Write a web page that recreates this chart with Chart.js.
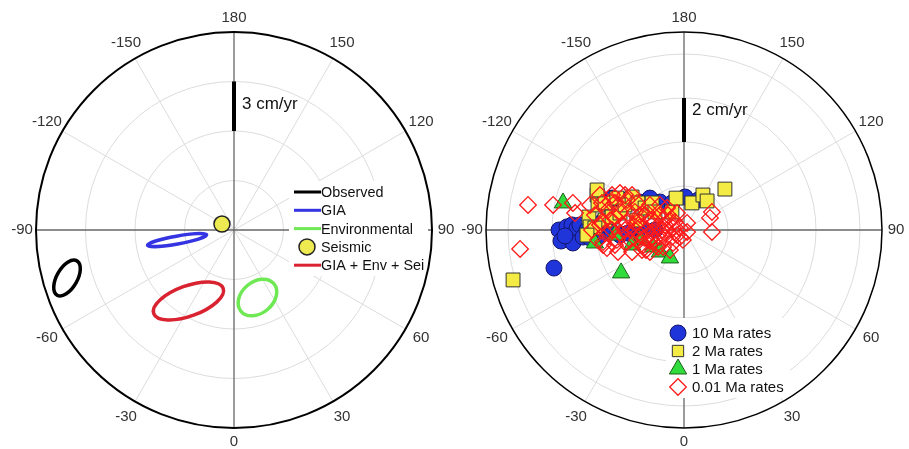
<!DOCTYPE html>
<html>
<head>
<meta charset="utf-8">
<script src="https://cdn.jsdelivr.net/npm/chart.js@4.4.0/dist/chart.umd.min.js"></script>
<style>
  html, body { margin: 0; padding: 0; background: #fff; }
  canvas { position: absolute; top: 0; }
</style>
</head>
<body>
<canvas id="leftChart" width="455" height="449" style="left:0"></canvas>
<canvas id="rightChart" width="454" height="449" style="left:455px"></canvas>
<script>
// Polar rate plots: azimuth labels round the rim, rates in cm/yr

const angleLabels = [180, 150, 120, 90, 60, 30, 0, -30, -60, -90, -120, -150];
const leftRings = [3, 6, 9];
const rightRings = [2, 4, 6, 8];

// left panel: error ellipses (east / north components, cm/yr)
const ellipseLabels = ['Observed', 'GIA', 'Environmental', 'GIA + Env + Sei'];
const ellipseColors = ['#000000', '#3434e2', '#6ee853', '#d92330'];
const ellipseEast = [-10.12, -3.45, 1.42, -2.76];
const ellipseNorth = [-2.91, -0.61, -4.09, -4.30];
const ellipseMajor = [1.20, 1.82, 1.30, 2.24];
const ellipseMinor = [0.62, 0.24, 0.95, 0.92];
const ellipseTilt = [60, 10, 40, 20];
const seismic = [[-0.73, 0.36]];

// right panel: rate estimates (east, north) cm/yr
const tenMa = [[-5.91, -1.73], [-5.68, 0], [-5.59, -0.5], [-5.32, 0.14], [-5.09, 0.23], [-5.05, -0.59],
  [-4.86, 0.09], [-4.73, 0.23], [-4.59, -0.32], [-4.41, 0], [-4.27, -0.36], [-4.05, -0.14], [-3.82, -0.27],
  [-3.55, 0], [-3.27, -0.09], [-2.91, -0.23], [-2.55, -0.14], [-2.0, 0.09], [-1.32, 0], [-3.27, 1.45],
  [-2.0, 1.27], [-1.09, 1.27], [-0.55, 1.23], [0.05, 1.5], [0.64, 1.36], [-3.73, 0.36], [-5.41, -0.27],
  [-2.82, 1.36], [-1.55, 1.45]];
const twoMa = [[-7.77, -2.27], [-4.32, 0.59], [-4.27, 0.14], [-3.95, 1.59], [-3.91, 1.14], [-3.59, 0.45],
  [-3.59, 1.23], [-3.27, 0.59], [-3.05, 1.45], [-2.91, 0.77], [-2.68, 1.14], [-2.36, 1.5], [-2.09, 1.23],
  [-2.14, 0.45], [-1.77, 1.0], [-1.45, 1.23], [-1.32, 0.82], [-0.55, 0.82], [-0.36, 1.45], [0.36, 1.23],
  [0.86, 1.59], [1.05, 1.32], [1.86, 1.86], [-4.05, 0.09], [-4.41, -0.23], [-3.95, 1.82]];
const oneMa = [[-5.5, 1.23], [-4.05, -0.59], [-2.86, -1.95], [-1.41, -0.77], [-1.09, -1.0], [-0.64, -1.27],
  [-2.0, -0.45], [-2.36, -0.68], [-3.14, -0.23]];
const hundredthMa = [[-7.09, 1.14], [-5.95, 1.14], [-5.05, 1.23], [-4.95, 0.77], [-7.45, -0.86], [-4.27, 1.14],
  [-3.73, 1.23], [-3.45, 0.91], [-3.73, 0.36], [-3.68, -0.55], [-2.59, 1.36], [-2.91, 0.82], [-2.55, 0.77],
  [-1.68, 0.77], [-2.0, 0.14], [-1.41, -0.32], [-0.95, 0.45], [-0.5, 0.09], [-0.18, -0.32], [-0.32, 0.77],
  [0.14, 0.32], [1.27, 0.82], [1.18, 0.55], [1.27, -0.09], [-1.18, -0.77], [-1.55, -1.0], [-2.14, -0.45],
  [-2.91, -0.14], [-3.27, 0], [-2.45, 0], [-0.95, -0.77], [-0.5, -0.59], [-0.77, 0], [-1.68, 0], [-2.14, 0.32],
  [-1.23, 0.14], [-0.77, 1.0], [-2.59, 0.32], [-3.14, 0.59], [-3.59, -0.14], [-3.05, -0.45], [-2.59, -0.55],
  [-1.86, -0.68], [-1.45, 0.45], [-1.09, -0.32], [-0.55, -0.32], [-0.32, -0.23], [0.14, -0.09], [-2.14, 1.23],
  [-2.91, 1.68], [-2.36, 1.59], [-3.82, 1.59], [-3.36, 1.27], [-1.77, 0.68], [-1.32, 0.36], [-0.86, 0.23],
  [-2.0, -0.23], [-1.55, -0.45], [-1.09, 0.68], [-0.64, 0.45], [-2.68, 0], [-2.23, 0.82], [-3.14, 1.23],
  [-1.73, -0.91], [-3.68, -0.68], [-4.05, 0.68], [-3.82, 0.23], [-3.36, 0.45], [-3.14, -0.68], [-2.82, 0.23],
  [-2.45, -0.45], [-2.23, 0], [-2.0, 0.68], [-1.91, -0.91], [-1.64, 0.36], [-1.45, -0.09], [-1.27, -0.68],
  [-1.0, 0], [-0.86, -0.36], [-0.73, 0.68], [-0.41, 0.36], [-0.18, 0.09], [-0.05, -0.45], [-1.09, 1.14],
  [-1.55, 1.14], [-2.68, 1.59], [-3.27, 1.59], [-4.18, 0], [-3.91, -0.45], [-3.5, -0.82], [-3.0, -1.0],
  [-2.36, -1.0], [-1.77, -0.36], [-1.32, -0.45], [-0.64, -0.91]];

const FONT = '"Liberation Sans", Arial, Helvetica, sans-serif';
const toXY = arr => arr.map(p => ({x: p[0], y: p[1]}));

function drawMarker(ctx, style, x, y, r) {
  ctx.beginPath();
  if (style === 'circle') {
    ctx.arc(x, y, r, 0, Math.PI * 2);
  } else if (style === 'rect') {
    const s = r * Math.SQRT1_2;
    ctx.rect(x - s, y - s, 2 * s, 2 * s);
  } else if (style === 'triangle') {
    ctx.moveTo(x, y - r);
    ctx.lineTo(x + r * 0.866, y + r * 0.5);
    ctx.lineTo(x - r * 0.866, y + r * 0.5);
    ctx.closePath();
  } else if (style === 'rectRot') {
    ctx.moveTo(x - r, y);
    ctx.lineTo(x, y - r);
    ctx.lineTo(x + r, y);
    ctx.lineTo(x, y + r);
    ctx.closePath();
  }
  ctx.fill();
  ctx.stroke();
}

const polarGrid = {
  id: 'polarGrid',
  beforeDatasetsDraw(chart, args, opts) {
    const {ctx, scales: {x, y}} = chart;
    const cx = x.getPixelForValue(0), cy = y.getPixelForValue(0);
    const unit = x.getPixelForValue(1) - cx;
    const R = opts.outer * unit;
    const rad = a => a * Math.PI / 180;
    ctx.save();

    ctx.strokeStyle = '#dcdcdc';
    ctx.lineWidth = 1;
    opts.rings.forEach(r => {
      ctx.beginPath();
      ctx.arc(cx, cy, r * unit, 0, Math.PI * 2);
      ctx.stroke();
    });
    angleLabels.forEach(a => {
      if (a % 90 === 0) return;
      ctx.beginPath();
      ctx.moveTo(cx, cy);
      ctx.lineTo(cx + R * Math.sin(rad(a)), cy + R * Math.cos(rad(a)));
      ctx.stroke();
    });

    ctx.strokeStyle = '#666';
    ctx.lineWidth = 1.3;
    [0, 90, 180, -90].forEach(a => {
      ctx.beginPath();
      ctx.moveTo(cx, cy);
      ctx.lineTo(cx + R * Math.sin(rad(a)), cy + R * Math.cos(rad(a)));
      ctx.stroke();
    });

    // white box behind the legend
    const b = opts.legendBox;
    ctx.fillStyle = '#fff';
    ctx.fillRect(b[0], b[1], b[2] - b[0], b[3] - b[1]);

    ctx.strokeStyle = '#000';
    ctx.lineWidth = opts.rimWidth;
    ctx.beginPath();
    ctx.arc(cx, cy, R, 0, Math.PI * 2);
    ctx.stroke();

    ctx.fillStyle = '#333';
    ctx.font = '15px ' + FONT;
    ctx.textAlign = 'center';
    ctx.textBaseline = 'middle';
    angleLabels.forEach(a => {
      const d = R + (a % 90 === 0 ? 14 : 18);
      ctx.fillText(String(a), cx + d * Math.sin(rad(a)), cy + d * Math.cos(rad(a)));
    });

    // scale bar on the 180 spoke
    const sb = opts.scaleBar;
    ctx.strokeStyle = '#000';
    ctx.lineWidth = 4;
    ctx.beginPath();
    ctx.moveTo(cx, y.getPixelForValue(sb.from));
    ctx.lineTo(cx, y.getPixelForValue(sb.to));
    ctx.stroke();
    ctx.fillStyle = '#111';
    ctx.font = '17px ' + FONT;
    ctx.textAlign = 'left';
    ctx.fillText(sb.text, cx + 8, y.getPixelForValue(sb.labelAt));
    ctx.restore();
  }
};

const ellipsePlugin = {
  id: 'ellipses',
  beforeDatasetsDraw(chart) {
    const {ctx, scales: {x, y}} = chart;
    const unit = x.getPixelForValue(1) - x.getPixelForValue(0);
    ctx.save();
    ctx.lineWidth = 3.5;
    ellipseLabels.forEach((lbl, i) => {
      ctx.strokeStyle = ellipseColors[i];
      ctx.beginPath();
      ctx.ellipse(x.getPixelForValue(ellipseEast[i]), y.getPixelForValue(ellipseNorth[i]),
        ellipseMajor[i] * unit, ellipseMinor[i] * unit, -ellipseTilt[i] * Math.PI / 180, 0, Math.PI * 2);
      ctx.stroke();
    });
    ctx.restore();
  }
};

const innerLegend = {
  id: 'innerLegend',
  afterDatasetsDraw(chart, args, opts) {
    const ctx = chart.ctx;
    ctx.save();
    ctx.font = opts.fontSize + 'px ' + FONT;
    ctx.textAlign = 'left';
    ctx.textBaseline = 'middle';
    opts.items.forEach((it, i) => {
      const yy = opts.y + i * opts.step;
      if (it.kind === 'line') {
        ctx.strokeStyle = it.color;
        ctx.lineWidth = 3;
        ctx.beginPath();
        ctx.moveTo(opts.x, yy);
        ctx.lineTo(opts.x + 27, yy);
        ctx.stroke();
      } else {
        ctx.fillStyle = it.fill;
        ctx.strokeStyle = it.stroke;
        ctx.lineWidth = it.width;
        drawMarker(ctx, it.style, opts.markerX, yy, it.radius);
      }
      ctx.fillStyle = '#111';
      ctx.fillText(it.label, opts.textX, yy + 1);
    });
    ctx.restore();
  }
};

const baseOptions = (outer) => ({
  responsive: false,
  animation: false,
  events: [],
  scales: {
    x: {display: false, min: -outer, max: outer},
    y: {display: false, min: -outer, max: outer}
  }
});

const seismicStyle = {fill: '#eeea52', stroke: '#222', width: 1.5, style: 'circle', radius: 8};

new Chart(document.getElementById('leftChart'), {
  type: 'scatter',
  data: {
    datasets: [{
      label: 'Seismic',
      data: toXY(seismic),
      pointStyle: 'circle',
      pointRadius: 8,
      pointBackgroundColor: seismicStyle.fill,
      pointBorderColor: seismicStyle.stroke,
      pointBorderWidth: seismicStyle.width
    }]
  },
  options: {
    ...baseOptions(12),
    layout: {padding: {left: 36, right: 23, top: 32, bottom: 21}},
    plugins: {
      legend: {display: false},
      tooltip: {enabled: false},
      polarGrid: {
        outer: 12, rings: leftRings, rimWidth: 2,
        legendBox: [289, 181, 428, 276],
        scaleBar: {from: 6, to: 9, labelAt: 7.6, text: '3 cm/yr'}
      },
      innerLegend: {
        x: 294, markerX: 307, textX: 321, y: 192, step: 18.3, fontSize: 14.4,
        items: [
          {kind: 'line', color: ellipseColors[0], label: ellipseLabels[0]},
          {kind: 'line', color: ellipseColors[1], label: ellipseLabels[1]},
          {kind: 'line', color: ellipseColors[2], label: ellipseLabels[2]},
          {kind: 'point', label: 'Seismic', ...seismicStyle},
          {kind: 'line', color: ellipseColors[3], label: ellipseLabels[3]}
        ]
      }
    }
  },
  plugins: [polarGrid, ellipsePlugin, innerLegend]
});

const rateSets = [
  {label: '10 Ma rates', data: tenMa, style: 'circle', radius: 8, fill: '#1f35da', stroke: '#14146a', width: 1, order: 4},
  {label: '2 Ma rates', data: twoMa, style: 'rect', radius: 9.8, fill: '#f4ec45', stroke: '#333', width: 1, order: 3},
  {label: '1 Ma rates', data: oneMa, style: 'triangle', radius: 10, fill: '#2fdc3c', stroke: '#1b5e1b', width: 1, order: 2},
  {label: '0.01 Ma rates', data: hundredthMa, style: 'rectRot', radius: 8.3, fill: 'rgba(255,255,255,0)', stroke: '#ff1a1a', width: 1.3, order: 1}
];

new Chart(document.getElementById('rightChart'), {
  type: 'scatter',
  data: {
    datasets: rateSets.map(s => ({
      label: s.label,
      data: toXY(s.data),
      order: s.order,
      pointStyle: s.style,
      pointRadius: s.radius,
      pointBackgroundColor: s.fill,
      pointBorderColor: s.stroke,
      pointBorderWidth: s.width
    }))
  },
  options: {
    ...baseOptions(9),
    layout: {padding: {left: 31, right: 27, top: 32, bottom: 21}},
    plugins: {
      legend: {display: false},
      tooltip: {enabled: false},
      polarGrid: {
        outer: 9, rings: rightRings, rimWidth: 1.5,
        legendBox: [666 - 455, 318, 790 - 455, 398],
        scaleBar: {from: 4, to: 6, labelAt: 5.45, text: '2 cm/yr'}
      },
      innerLegend: {
        x: 0, markerX: 678 - 455, textX: 692 - 455, y: 333, step: 18, fontSize: 15,
        items: rateSets.map(s => ({kind: 'point', label: s.label, style: s.style,
          radius: s.style === 'rect' ? 8 : s.radius, fill: s.fill, stroke: s.stroke, width: s.width}))
      }
    }
  },
  plugins: [polarGrid, innerLegend]
});
</script>
</body>
</html>
